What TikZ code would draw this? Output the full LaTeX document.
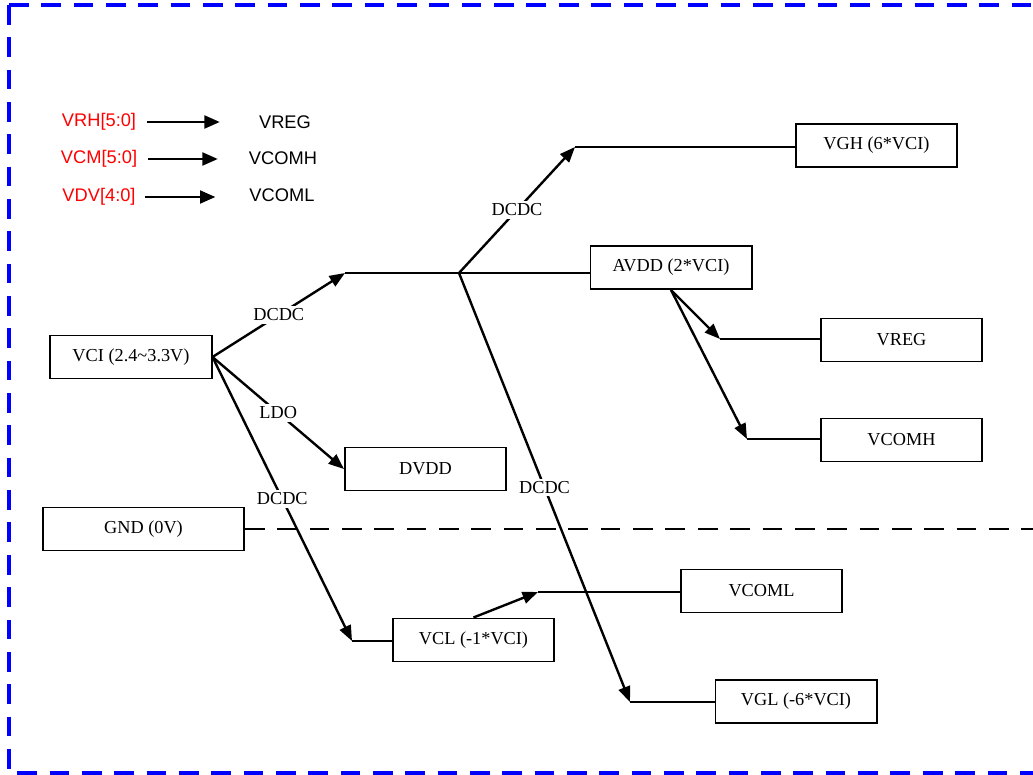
\documentclass[tikz,border=0pt]{standalone}
\usepackage{fontspec}
\setmainfont{Liberation Serif}
\newfontfamily\legendfont{Liberation Sans}
\usetikzlibrary{positioning, arrows.meta}
\definecolor{regred}{RGB}{255,0,0}
\definecolor{frameblue}{RGB}{0,0,255}

\begin{document}
\begin{tikzpicture}[x=0.025cm, y=-0.025cm, line width=1.7pt,
    >={Triangle[length=11pt, width=8.5pt]},
    font=\fontsize{13}{15}\selectfont,
    box/.style={draw, line width=1.4pt, minimum width=4.025cm, minimum height=1.075cm, inner sep=0pt},
    tag/.style={fill=white, inner sep=2pt},
    reg/.style={font=\legendfont\fontsize{13}{15}\selectfont, inner sep=0pt},
    sig/.style={reg, minimum width=2cm},
    legarrow/.style={->, line width=2.1pt, >={Triangle[length=11pt, width=9pt]}}]
    \useasboundingbox (0,0) rectangle (1033,775);

    % Frame
    \draw[frameblue, line width=2.2pt, dash pattern=on 14pt off 9pt] (9,5) -- (1033,5);
    \draw[frameblue, line width=2.2pt, dash pattern=on 14pt off 9pt] (9,5) -- (9,773) -- (1033,773);

    % Register legend
    \node[reg, text=regred] (vrh) at (99,122) {VRH[5:0]};
    \node[reg, text=regred] (vcm) at (99,159) {VCM[5:0]};
    \node[reg, text=regred] (vdv) at (99,197) {VDV[4:0]};
    \node[sig] (sreg) at (285,122) {VREG};
    \node[sig] (scomh) at (283,158) {VCOMH};
    \node[sig] (scoml) at (282,195) {VCOML};
    \draw[legarrow, shorten <=7pt, shorten >=17pt] (vrh.east) -- (vrh.east -| sreg.west);
    \draw[legarrow, shorten <=7pt, shorten >=17pt] (vcm.east) -- (vcm.east -| scomh.west);
    \draw[legarrow, shorten <=6pt, shorten >=18pt] (vdv.east) -- (vdv.east -| scoml.west);

    % Nodes
    \node[box] (vci) at (131,357) {VCI (2.4\char`~3.3V)};
    \node[box, minimum width=5.025cm] (gnd) at (143.5,529) {GND (0V)};
    \node[box] (dvdd) at (425.5,469) {DVDD};
    \node[box] (vcl) at (473.5,640) {VCL (-1*VCI)};
    \node[box] (vgh) at (876.5,145.5) {VGH (6*VCI)};
    \node[box] (avdd) at (671,267.5) {AVDD (2*VCI)};
    \node[box] (vreg) at (901.5,340) {VREG};
    \node[box, below=1.375cm of vreg] (vcomh) {VCOMH};
    \node[box] (vcoml) at (761.5,591) {VCOML};
    \node[box] (vgl) at (796,701.5) {VGL (-6*VCI)};

    % Corners
    \coordinate (up) at (345,273);
    \coordinate (fork) at (459,273);
    \coordinate (gh) at (575,147);
    \coordinate (gl) at (630,702);
    \coordinate (cl) at (352,641);
    \coordinate (ml) at (538,592);
    \coordinate (rg) at (720,339);
    \coordinate (ch) at (747,439);
    \coordinate (gndend) at (1033,529);

    % Edges
    \draw[->] (vci.east) -- node[tag] {DCDC} (up);
    \draw (up) -- (up -| avdd.west);
    \draw[->] (fork) -- node[tag] {DCDC} (gh);
    \draw (gh) -- (gh -| vgh.west);
    \draw[->] (fork) -- node[tag] {DCDC} (gl);
    \draw (gl) -- (gl -| vgl.west);
    \draw[->] (vci.east) -- node[tag] {LDO} (dvdd.west);
    \draw[->] (vci.east) -- node[tag] {DCDC} (cl);
    \draw (cl) -- (cl -| vcl.west);
    \draw[->] (vcl.north) -- (ml);
    \draw (ml) -- (ml -| vcoml.west);
    \draw[->] (avdd.south) -- (rg);
    \draw (rg) -- (rg -| vreg.west);
    \draw[->] (avdd.south) -- (ch);
    \draw (ch) -- (ch -| vcomh.west);
    \draw[dash pattern=on 14pt off 9pt] (gnd.east) -- (gndend);
\end{tikzpicture}
\end{document}
